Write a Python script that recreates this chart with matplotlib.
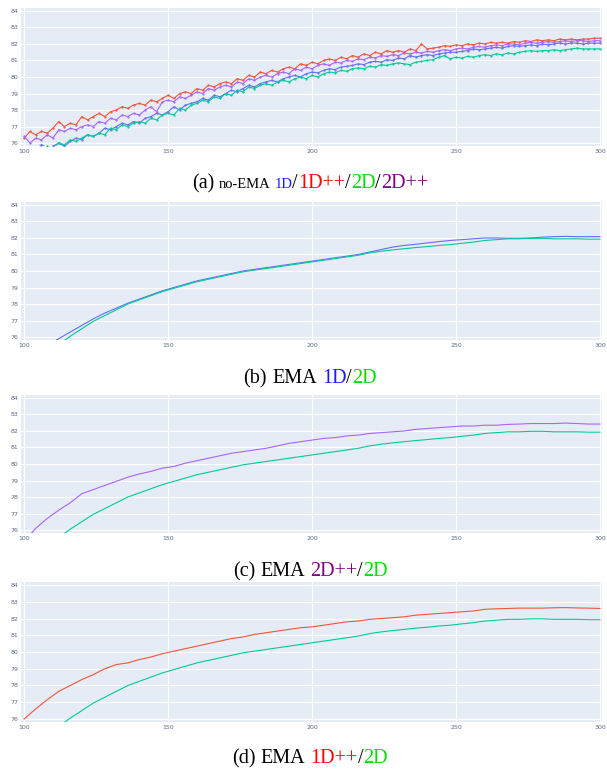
import numpy as np
import matplotlib
matplotlib.use("Agg")
import matplotlib.pyplot as plt

# epochs of the raw (no-EMA) curves and of the EMA curves
epochs_raw = list(range(100, 301, 2))
epochs_ema = list(range(100, 301, 4))

# (a) no-EMA accuracies
acc_1d = [75.5, 75.4, 75.6, 75.9, 75.7, 75.8, 76.0, 75.8, 76.1, 76.3, 76.2, 76.5, 76.4, 76.6, 76.9, 76.8, 77.0, 77.2, 77.1, 77.3,
          77.2, 77.5, 77.6, 77.8, 77.7, 77.9, 78.2, 78.0, 78.3, 78.4, 78.5, 78.7, 78.6, 78.9, 78.8, 79.0, 79.2, 79.1, 79.3, 79.5,
          79.4, 79.6, 79.7, 79.8, 79.7, 79.9, 80.0, 80.1, 80.0, 80.2, 80.3, 80.25, 80.4, 80.5, 80.45, 80.6, 80.65, 80.7, 80.8, 80.75,
          80.9, 80.95, 80.9, 81.05, 81.0, 81.15, 81.1, 81.3, 81.2, 81.3, 81.35, 81.3, 81.4, 81.45, 81.5, 81.5, 81.55, 81.6, 81.7, 81.65,
          81.7, 81.75, 81.8, 81.75, 81.85, 81.9, 81.85, 81.9, 81.95, 81.9, 82.0, 81.95, 82.0, 82.05, 82.0, 82.05, 82.05, 82.0, 82.05, 82.05,
          82.05]
acc_1dpp = [76.3, 76.7, 76.5, 76.7, 76.6, 76.9, 77.3, 77.0, 77.2, 77.1, 77.6, 77.4, 77.6, 77.8, 77.6, 77.9, 78.0, 78.2, 78.1, 78.3,
            78.4, 78.3, 78.6, 78.5, 78.7, 78.9, 78.7, 79.0, 79.1, 79.0, 79.3, 79.2, 79.5, 79.4, 79.6, 79.7, 79.6, 79.9, 79.8, 80.1,
            80.0, 80.3, 80.2, 80.4, 80.3, 80.5, 80.6, 80.5, 80.8, 80.7, 80.9, 80.8, 81.0, 81.1, 81.0, 81.2, 81.1, 81.3, 81.2, 81.4,
            81.3, 81.5, 81.4, 81.6, 81.5, 81.6, 81.5, 81.7, 81.6, 82.0, 81.7, 81.75, 81.8, 81.9, 81.85, 81.95, 81.9, 82.0, 81.95, 82.05,
            82.0, 82.1, 82.05, 82.1, 82.05, 82.15, 82.1, 82.2, 82.15, 82.25, 82.2, 82.25, 82.2, 82.3, 82.25, 82.3, 82.25, 82.3, 82.3, 82.35,
            82.35]
acc_2d = [75.2, 75.4, 75.5, 75.6, 75.8, 75.7, 76.0, 75.9, 76.2, 76.1, 76.3, 76.5, 76.4, 76.6, 76.5, 76.9, 76.8, 77.1, 77.0, 77.2,
          77.3, 77.2, 77.5, 77.4, 77.7, 77.8, 77.7, 78.1, 78.0, 78.3, 78.4, 78.6, 78.5, 78.8, 78.7, 79.0, 78.9, 79.2, 79.1, 79.4,
          79.3, 79.5, 79.6, 79.5, 79.7, 79.8, 79.7, 79.9, 80.0, 79.9, 80.1, 80.0, 80.2, 80.3, 80.25, 80.4, 80.35, 80.5, 80.55, 80.5,
          80.65, 80.6, 80.75, 80.7, 80.8, 80.85, 80.8, 80.75, 80.9, 80.95, 81.0, 81.05, 81.2, 81.3, 81.1, 81.2, 81.15, 81.25, 81.2, 81.3,
          81.35, 81.3, 81.4, 81.35, 81.45, 81.4, 81.5, 81.55, 81.6, 81.55, 81.6, 81.6, 81.65, 81.6, 81.65, 81.7, 81.75, 81.7, 81.7, 81.7,
          81.7]
acc_2dpp = [76.4, 76.0, 76.3, 76.2, 76.5, 76.3, 76.8, 76.7, 76.9, 76.8, 77.0, 77.1, 77.0, 77.3, 77.2, 77.5, 77.4, 77.7, 77.6, 77.8,
            77.7, 78.0, 78.2, 77.9, 78.5, 78.6, 78.5, 78.8, 78.7, 78.9, 79.1, 79.0, 79.3, 79.2, 79.4, 79.5, 79.4, 79.7, 79.6, 79.9,
            79.8, 80.0, 80.1, 80.0, 80.2, 80.3, 80.2, 80.5, 80.4, 80.6, 80.5, 80.7, 80.8, 80.7, 80.9, 80.85, 81.0, 80.95, 81.1, 81.05,
            81.2, 81.15, 81.3, 81.25, 81.35, 81.3, 81.45, 81.4, 81.5, 81.45, 81.55, 81.5, 81.6, 81.65, 81.6, 81.7, 81.75, 81.7, 81.8, 81.85,
            81.8, 81.9, 81.95, 81.9, 82.0, 82.0, 81.95, 82.05, 82.1, 82.05, 82.1, 82.15, 82.1, 82.15, 82.2, 82.15, 82.2, 82.2, 82.15, 82.2,
            82.2]

# EMA accuracies
ema_1d = [74.6, 75.1, 75.5, 75.9, 76.3, 76.7, 77.1, 77.45, 77.75, 78.05, 78.3, 78.55, 78.8, 79.0, 79.2, 79.4, 79.55, 79.7, 79.85, 80.0,
          80.1, 80.2, 80.3, 80.4, 80.5, 80.6, 80.7, 80.8, 80.9, 81.0, 81.15, 81.3, 81.45, 81.55, 81.62, 81.7, 81.78, 81.85, 81.9, 81.95,
          82.0, 82.0, 81.98, 81.98, 82.0, 82.05, 82.08, 82.1, 82.08, 82.08, 82.08]
ema_2d = [73.9, 74.5, 75.0, 75.55, 76.05, 76.5, 76.95, 77.3, 77.65, 78.0, 78.25, 78.5, 78.75, 78.95, 79.15, 79.35, 79.5, 79.65, 79.8, 79.95,
          80.05, 80.15, 80.25, 80.35, 80.45, 80.55, 80.65, 80.75, 80.85, 80.95, 81.1, 81.2, 81.28, 81.35, 81.42, 81.48, 81.55, 81.6, 81.68, 81.75,
          81.85, 81.9, 81.95, 81.95, 81.98, 81.98, 81.95, 81.95, 81.95, 81.93, 81.93]
ema_2dpp = [75.3, 76.1, 76.7, 77.2, 77.65, 78.2, 78.45, 78.7, 78.95, 79.2, 79.4, 79.55, 79.75, 79.85, 80.05, 80.2, 80.35, 80.5, 80.65, 80.75,
            80.85, 80.95, 81.1, 81.25, 81.35, 81.45, 81.55, 81.6, 81.7, 81.75, 81.85, 81.9, 81.95, 82.0, 82.1, 82.15, 82.2, 82.25, 82.3, 82.3,
            82.35, 82.35, 82.4, 82.42, 82.45, 82.45, 82.45, 82.48, 82.45, 82.42, 82.42]
ema_1dpp = [76.0, 76.6, 77.15, 77.65, 78.0, 78.35, 78.65, 79.0, 79.25, 79.35, 79.55, 79.7, 79.9, 80.05, 80.2, 80.35, 80.5, 80.65, 80.8, 80.9,
            81.05, 81.15, 81.25, 81.35, 81.45, 81.5, 81.6, 81.7, 81.8, 81.85, 81.95, 82.0, 82.05, 82.1, 82.2, 82.25, 82.3, 82.35, 82.4, 82.45,
            82.55, 82.58, 82.6, 82.62, 82.62, 82.62, 82.64, 82.65, 82.63, 82.62, 82.6]

x_ticks = [100, 150, 200, 250, 300]
y_ticks = [76, 77, 78, 79, 80, 81, 82, 83, 84]

# plotly default colours
c_blue, c_red, c_green, c_purple = "#636EFA", "#EF553B", "#00CC96", "#AB63FA"

W, H = 607, 771
fig = plt.figure(figsize=(W / 100, H / 100), dpi=100)

def panel(top, bottom):
    ax = fig.add_axes([21 / W, 1 - bottom / H, 581 / W, (bottom - top) / H])
    ax.set_facecolor("#E5ECF6")
    for s in ax.spines.values():
        s.set_visible(False)
    ax.set_xlim(98.9, 300.7)
    ax.set_ylim(75.82, 84.18)
    ax.set_xticks(x_ticks)
    ax.set_yticks(y_ticks)
    ax.grid(True, color="white", linewidth=0.8)
    ax.set_axisbelow(True)
    ax.tick_params(length=0, labelsize=4.5, labelcolor="#5a6a85", pad=2)
    return ax

def line(ax, x, y, c, ms=1.2):
    ax.plot(x, y, color=c, linewidth=0.8, marker=".", markersize=ms)

ax = panel(8, 146)
line(ax, epochs_raw, acc_1d, c_blue)
line(ax, epochs_raw, acc_1dpp, c_red)
line(ax, epochs_raw, acc_2d, c_green)
line(ax, epochs_raw, acc_2dpp, c_purple)

ax = panel(202, 340)
line(ax, epochs_ema, ema_1d, c_blue, 0)
line(ax, epochs_ema, ema_2d, c_green, 0)

ax = panel(395, 533)
line(ax, epochs_ema, ema_2dpp, c_purple, 0)
line(ax, epochs_ema, ema_2d, c_green, 0)

ax = panel(582, 722)
line(ax, epochs_ema, ema_1dpp, c_red, 0)
line(ax, epochs_ema, ema_2d, c_green, 0)

# captions with coloured, mixed size pieces
renderer = fig.canvas.get_renderer()
K, B, R, G, P = "black", "#1a1aff", "#ff0000", "#00e000", "#800080"
BIG, SMALL = 14.5, 10.5

def caption(parts, ybase):
    texts, widths = [], []
    for s, c, sz, gap in parts:
        t = fig.text(0, 1 - ybase / H, s, color=c, fontsize=sz, family="Liberation Serif",
                     ha="left", va="baseline")
        texts.append(t)
        widths.append(t.get_window_extent(renderer).width + gap * sz * 100 / 72)
    x = 310 - sum(widths) / 2
    for t, w, p in zip(texts, widths, parts):
        gap = p[3] * p[2] * 100 / 72
        t.set_x((x + gap) / W)
        x += w

caption([("(a)", K, BIG, 0), ("no-EMA", K, SMALL, 0.3), ("1D", B, SMALL, 0.3), ("/", K, BIG, 0),
         ("1D++", R, BIG, 0), ("/", K, BIG, 0), ("2D", G, BIG, 0), ("/", K, BIG, 0), ("2D++", P, BIG, 0)], 188)
caption([("(b)", K, BIG, 0), ("EMA", K, BIG, 0.25), ("1D", B, BIG, 0.25), ("/", K, BIG, 0), ("2D", G, BIG, 0)], 383)
caption([("(c)", K, BIG, 0), ("EMA", K, BIG, 0.25), ("2D++", P, BIG, 0.25), ("/", K, BIG, 0), ("2D", G, BIG, 0)], 576)
caption([("(d)", K, BIG, 0), ("EMA", K, BIG, 0.25), ("1D++", R, BIG, 0.25), ("/", K, BIG, 0), ("2D", G, BIG, 0)], 763)

fig.savefig("out.png", dpi=100)
